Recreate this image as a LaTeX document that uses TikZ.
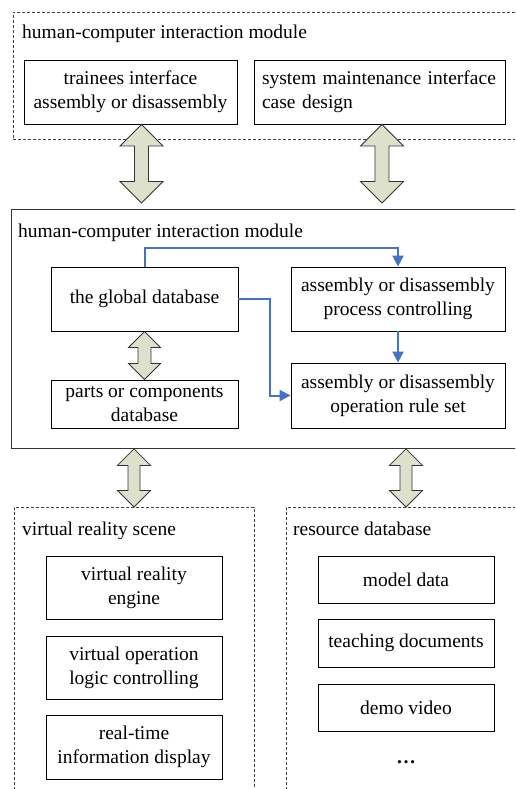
\documentclass[tikz,border=0pt]{standalone}
\usepackage{fontspec}
\setmainfont{Liberation Serif}
\usetikzlibrary{calc,arrows.meta}

\definecolor{arrfill}{RGB}{221,225,204}
\definecolor{flowblue}{RGB}{68,114,196}

% vertical double-headed block arrow between two points
% #1 top point, #2 bottom point, #3 half head width, #4 half shaft width (pt)
\newcommand\dblarrow[4]{%
  \draw[blockarrow] let \p1=#1, \p2=#2 in
    (\x1,\y1) -- (\x1+#3pt,\y1-#3pt) -- (\x1+#4pt,\y1-#3pt)
    -- (\x1+#4pt,\y2+#3pt) -- (\x1+#3pt,\y2+#3pt) -- (\x1,\y2)
    -- (\x1-#3pt,\y2+#3pt) -- (\x1-#4pt,\y2+#3pt) -- (\x1-#4pt,\y1-#3pt)
    -- (\x1-#3pt,\y1-#3pt) -- cycle;}

\begin{document}
\begin{tikzpicture}[x=1pt,y=1pt,
  font=\fontsize{19.5}{24}\selectfont,
  box/.style={draw, line width=0.9pt, align=center, inner sep=0pt},
  group/.style={draw=black!75, line width=0.8pt, dash pattern=on 3pt off 2pt, inner sep=0pt},
  solidgroup/.style={draw=black!80, line width=0.9pt, inner sep=0pt},
  grouplabel/.style={anchor=base west, inner sep=0pt},
  blockarrow/.style={draw=black!80, fill=arrfill, line width=0.8pt, line join=miter},
  flow/.style={draw=flowblue, line width=2pt, -{Triangle[length=11pt,width=11pt]}}
]
\useasboundingbox (0,0) rectangle (515,-789);
\clip (0,0) rectangle (515,-789);

% ---- top module ----
\node[group, anchor=north west, minimum width=515pt, minimum height=127pt] (T) at (13,-12) {};
\node[grouplabel] (Tl) at (22,-39) {human-computer interaction module};
\node[box, minimum width=213pt, minimum height=64pt] (A) at (130.5,-92)
  {trainees interface\\assembly or disassembly};
\node[box, minimum width=251pt, minimum height=64pt, text width=235pt, align=left] (B) at (379.5,-92)
  {system maintenance interface\\case design};

% ---- middle module ----
\node[solidgroup, anchor=north west, minimum width=520pt, minimum height=239pt] (M) at (11,-209) {};
\node[grouplabel] (Ml) at (18,-237) {human-computer interaction module};
\node[box, minimum width=187pt, minimum height=64pt] (G) at (144.5,-299) {the global database};
\node[box, minimum width=187pt, minimum height=48pt] (P) at (144.5,-404) {parts or components\\database};
\node[box, minimum width=214pt, minimum height=64pt] (PC) at (398,-299)
  {assembly or disassembly\\process controlling};
\node[box, minimum width=214pt, minimum height=65pt] (R) at (398,-395.5)
  {assembly or disassembly\\operation rule set};

% ---- lower modules ----
\node[group, anchor=north west, minimum width=240pt, minimum height=300pt] (VR) at (14,-507) {};
\node[grouplabel] (VRl) at (22,-535) {virtual reality scene};
\node[box, minimum width=176pt, minimum height=63pt] (E) at (134,-587.5) {virtual reality\\engine};
\node[box, minimum width=176pt, minimum height=63pt] (O) at (134,-667.5) {virtual operation\\logic controlling};
\node[box, minimum width=176pt, minimum height=64pt] (D) at (134,-747) {real-time\\information display};

\node[group, anchor=north west, minimum width=240pt, minimum height=300pt] (RD) at (286,-507) {};
\node[grouplabel] (RDl) at (293,-535) {resource database};
\node[box, minimum width=176pt, minimum height=47pt] (MD) at (406,-579.5) {model data};
\node[box, minimum width=176pt, minimum height=48pt] (TD) at (406,-643) {teaching documents};
\node[box, minimum width=176pt, minimum height=47pt] (DV) at (406,-707.5) {demo video};
\node[inner sep=0pt, font=\fontsize{19.5}{24}\selectfont\bfseries] (dots) at (406,-762) {\dots};

% ---- block arrows ----
\coordinate (a1) at ($(M.north -| 141.5,0)+(0,6)$);
\coordinate (a2) at ($(M.north -| 382,0)+(0,6)$);
\dblarrow{(A.south -| 141.5,0)}{(a1)}{21.5}{7}
\dblarrow{(B.south -| 382,0)}{(a2)}{21.5}{7}
\dblarrow{(G.south)}{(P.north)}{16}{6.5}
\dblarrow{(M.south -| 134,0)}{(VR.north -| 134,0)}{16.5}{6}
\dblarrow{(M.south -| 406,0)}{(RD.north -| 406,0)}{16.5}{6}

% ---- flow connectors ----
\draw[flow] (G.north) -- (G.north |- 0,-248) -| (PC.north);
\draw[flow] (G.east) -- ++(32,0) |- (R.west);
\draw[flow] (PC.south) -- (R.north);
\end{tikzpicture}
\end{document}
